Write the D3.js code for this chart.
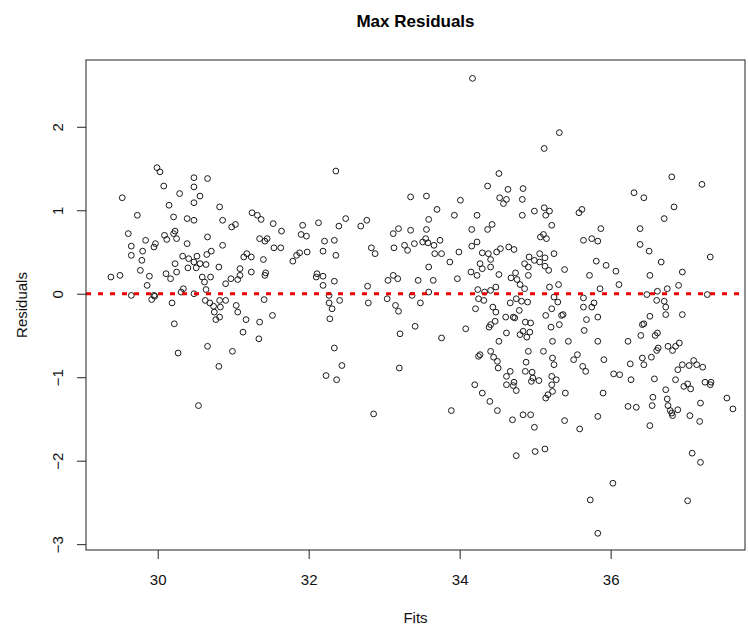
<!DOCTYPE html>
<html>
<head>
<meta charset="utf-8">
<script src="https://cdn.jsdelivr.net/npm/d3@7"></script>
<style>
  html, body { margin: 0; padding: 0; background: #fff; }
  svg { display: block; font-family: "Liberation Sans", Arial, sans-serif; }
</style>
</head>
<body>
<svg id="chart" width="748" height="630"></svg>
<script>
// ---- data ----
const title = "Max Residuals";
const xLabel = "Fits";
const yLabel = "Residuals";
const xTicks = [30, 32, 34, 36];
const yTicks = [-3, -2, -1, 0, 1, 2];
const refLine = 0;

const fits = [
  29.99,30.03,30.08,29.53,30.48,30.66,30.48,30.29,30.56,30.48,30.15,30.82,29.73,30.21,30.39,30.48,30.86,31.25,31.03,30.98,
  29.61,30.09,30.23,30.21,29.84,30.12,30.25,30.66,29.97,29.95,30.39,30.86,29.65,29.80,29.65,30.71,30.65,30.52,30.33,30.41,
  29.79,30.48,30.56,30.64,30.23,30.40,30.51,30.81,31.14,31.18,31.24,31.09,29.77,30.25,30.11,30.17,29.89,29.50,29.38,30.59,
  30.70,30.62,31.09,31.24,30.97,30.90,31.06,29.86,30.34,30.31,30.64,30.48,29.65,29.95,
  29.92,29.96,30.19,30.63,30.69,30.74,30.82,30.90,30.83,30.75,30.82,30.77,31.04,31.06,31.17,31.13,30.22,30.66,30.27,30.99,
  30.81,30.54,
  32.36,33.35,33.56,31.32,31.37,31.53,31.64,31.92,32.13,32.49,32.40,32.69,32.77,31.90,31.97,31.35,31.45,31.42,32.21,32.34,
  31.54,31.63,31.88,31.84,31.79,31.98,32.19,32.36,32.83,32.88,33.12,33.19,33.35,33.56,33.59,33.13,33.27,33.31,33.40,33.51,
  33.55,33.58,31.40,31.43,31.42,32.11,32.10,32.19,32.19,32.34,32.78,33.12,33.05,33.18,33.45,33.59,33.59,31.41,32.27,32.27,
  32.31,32.41,32.28,31.52,31.35,31.34,32.79,33.04,33.15,33.19,33.37,33.48,33.41,33.21,32.34,32.44,32.23,32.37,33.20,32.86,
  34.17,35.32,35.12,34.52,34.37,34.64,34.84,34.53,34.62,34.58,34.83,34.01,33.70,33.93,34.23,34.83,34.99,35.12,35.19,35.14,
  35.58,35.62,35.22,34.43,34.37,34.16,35.11,35.07,35.15,33.74,33.66,34.23,34.16,35.64,35.75,34.65,34.72,34.54,34.49,34.30,
  34.38,33.67,33.76,33.99,34.41,34.27,33.87,34.92,34.99,35.06,35.06,35.13,35.25,34.86,34.91,35.13,35.18,35.39,34.30,34.41,
  34.15,34.23,34.52,34.74,34.68,34.76,34.91,35.72,33.97,33.65,34.80,34.86,34.48,34.41,34.24,34.33,35.19,35.31,
  34.25,34.32,34.75,34.82,34.90,35.25,35.30,35.64,35.78,35.75,35.64,34.21,34.44,34.48,34.67,34.79,35.22,35.14,34.61,34.71,
  34.73,35.35,35.37,35.68,34.47,34.41,34.39,34.87,34.94,34.93,34.84,34.80,34.89,35.21,35.32,35.65,34.08,33.76,34.62,34.52,
  35.23,35.44,34.41,34.91,35.11,34.25,34.27,34.45,34.50,34.51,34.88,35.23,35.25,35.56,35.51,35.63,35.67,34.67,34.62,34.87,
  34.96,34.97,34.95,35.05,35.22,35.28,35.22,34.72,34.62,34.71,34.75,34.20,34.30,34.40,35.23,35.17,35.14,35.40,33.89,34.50,
  34.70,34.84,34.94,34.99,35.39,35.59,34.75,35.00,35.13,35.73,
  36.81,37.21,36.31,36.44,36.84,36.71,35.87,36.39,35.83,36.39,36.51,37.32,35.81,35.94,36.07,36.67,36.95,36.52,36.11,35.86,
  36.90,36.75,36.62,36.48,37.28,36.61,36.71,36.73,35.83,36.52,36.73,36.95,36.42,36.44,36.40,36.59,36.62,35.83,36.23,36.61,
  36.63,36.76,36.82,36.86,36.91,35.91,36.42,36.44,36.54,36.26,36.04,36.12,36.27,36.58,36.89,36.95,37.04,37.10,37.14,37.22,
  36.86,36.97,37.02,37.06,37.25,37.33,37.32,36.73,35.90,36.56,36.75,36.55,36.76,36.79,36.82,36.81,36.89,36.23,36.34,37.19,
  37.05,37.18,37.54,37.62,35.83,36.52,37.08,37.19,36.03,37.02,35.83
];

const residuals = [
  1.51,1.46,1.29,1.15,1.39,1.38,1.28,1.20,1.17,1.09,1.06,1.04,0.94,0.92,0.90,0.88,0.88,0.97,0.83,0.80,
  0.72,0.70,0.75,0.72,0.64,0.65,0.66,0.68,0.60,0.56,0.60,0.58,0.57,0.51,0.46,0.51,0.47,0.45,0.45,0.42,
  0.40,0.38,0.36,0.35,0.36,0.31,0.31,0.32,0.44,0.48,0.44,0.30,0.28,0.26,0.24,0.18,0.21,0.22,0.20,0.20,
  0.20,0.14,0.22,0.26,0.18,0.12,0.17,0.10,0.06,0.02,0.05,0.00,-0.02,-0.02,
  -0.07,-0.03,-0.11,-0.08,-0.11,-0.15,-0.08,-0.08,-0.16,-0.22,-0.28,-0.31,-0.14,-0.22,-0.31,-0.46,-0.36,-0.63,-0.71,-0.69,
  -0.87,-1.34,
  1.47,1.16,1.17,0.94,0.89,0.84,0.75,0.82,0.85,0.90,0.81,0.81,0.88,0.71,0.69,0.66,0.66,0.63,0.63,0.64,
  0.55,0.55,0.49,0.46,0.39,0.50,0.51,0.46,0.55,0.48,0.72,0.78,0.76,0.77,0.89,0.55,0.58,0.52,0.60,0.62,
  0.66,0.61,0.41,0.25,0.22,0.24,0.20,0.21,0.10,0.15,0.09,0.22,0.16,0.18,0.16,0.32,0.02,-0.07,-0.02,-0.11,
  -0.18,-0.08,-0.30,-0.26,-0.34,-0.54,-0.11,-0.06,-0.14,-0.21,-0.02,-0.11,-0.39,-0.48,-0.65,-0.86,-0.98,-1.03,-0.89,-1.44,
  2.58,1.93,1.74,1.44,1.29,1.25,1.26,1.15,1.13,1.08,1.13,1.12,1.01,0.94,0.94,0.94,0.99,1.03,0.99,0.94,
  0.97,1.01,0.82,0.83,0.77,0.77,0.71,0.68,0.66,0.64,0.58,0.62,0.57,0.64,0.66,0.56,0.53,0.54,0.50,0.49,
  0.48,0.48,0.48,0.50,0.41,0.36,0.38,0.44,0.40,0.48,0.38,0.43,0.48,0.36,0.32,0.33,0.28,0.29,0.30,0.32,
  0.26,0.22,0.23,0.25,0.19,0.17,0.22,0.22,0.18,0.16,0.11,0.06,0.08,0.04,0.05,0.02,0.08,0.11,
  -0.06,-0.08,-0.06,-0.09,-0.10,-0.04,-0.10,-0.05,-0.11,-0.16,-0.16,-0.18,-0.16,-0.22,-0.11,-0.20,-0.18,-0.26,-0.28,-0.28,
  -0.29,-0.26,-0.25,-0.31,-0.33,-0.37,-0.40,-0.34,-0.35,-0.46,-0.45,-0.49,-0.52,-0.40,-0.37,-0.44,-0.42,-0.53,-0.47,-0.57,
  -0.57,-0.57,-0.69,-0.69,-0.69,-0.75,-0.73,-0.76,-0.81,-0.89,-0.82,-0.77,-0.85,-0.73,-0.79,-0.87,-0.93,-0.93,-0.99,-0.93,
  -0.94,-1.01,-1.05,-1.04,-0.99,-1.03,-1.09,-1.06,-1.09,-1.10,-1.16,-1.09,-1.19,-1.29,-1.17,-1.21,-1.25,-1.19,-1.40,-1.40,
  -1.51,-1.45,-1.45,-1.60,-1.52,-1.62,-1.94,-1.89,-1.86,-2.47,
  1.40,1.31,1.21,1.15,1.04,0.90,0.78,0.78,0.63,0.59,0.51,0.44,0.39,0.34,0.27,0.38,0.26,0.22,0.11,0.06,
  0.10,0.06,0.03,-0.01,-0.01,-0.08,-0.09,-0.16,-0.28,-0.27,-0.25,-0.25,-0.37,-0.36,-0.50,-0.50,-0.47,-0.57,-0.57,-0.68,
  -0.65,-0.63,-0.68,-0.63,-0.59,-0.79,-0.77,-0.85,-0.76,-0.84,-0.96,-0.97,-1.03,-1.02,-0.91,-0.85,-0.86,-0.80,-0.85,-0.88,
  -1.03,-1.11,-1.08,-1.14,-1.06,-1.06,-1.09,-1.15,-1.19,-1.24,-1.26,-1.34,-1.34,-1.40,-1.46,-1.43,-1.39,-1.35,-1.36,-1.31,
  -1.46,-1.53,-1.25,-1.38,-1.47,-1.58,-1.91,-2.02,-2.27,-2.48,-2.87
];

// ---- layout ----
const plot = { left: 86, right: 745, top: 60, bottom: 550 };
const svg = d3.select("#chart");

const x = d3.scaleLinear().domain([29.05, 37.78]).range([plot.left, plot.right]);
const y = d3.scaleLinear().domain([-3.07, 2.80]).range([plot.bottom, plot.top]);

const n = Math.min(fits.length, residuals.length);
if (fits.length !== residuals.length) console.warn("length mismatch", fits.length, residuals.length);
const pts = d3.range(n).map(i => ({ x: fits[i], y: residuals[i] }));

// title
svg.append("text")
  .attr("x", (plot.left + plot.right) / 2)
  .attr("y", 27)
  .attr("text-anchor", "middle")
  .attr("font-size", 17)
  .attr("font-weight", "bold")
  .attr("fill", "#000")
  .text(title);

// clip
svg.append("clipPath").attr("id", "clip")
  .append("rect")
  .attr("x", plot.left).attr("y", plot.top)
  .attr("width", plot.right - plot.left).attr("height", plot.bottom - plot.top);

// points
svg.append("g")
  .selectAll("circle")
  .data(pts)
  .join("circle")
  .attr("cx", d => x(d.x))
  .attr("cy", d => y(d.y))
  .attr("r", 2.9)
  .attr("fill", "none")
  .attr("stroke", "#1a1a1a")
  .attr("stroke-width", 1);

// reference line
svg.append("line")
  .attr("clip-path", "url(#clip)")
  .attr("x1", plot.left).attr("x2", plot.right)
  .attr("y1", y(refLine)).attr("y2", y(refLine))
  .attr("stroke", "#ee0000")
  .attr("stroke-width", 3)
  .attr("stroke-dasharray", "5,7");

// frame
svg.append("rect")
  .attr("x", plot.left).attr("y", plot.top)
  .attr("width", plot.right - plot.left).attr("height", plot.bottom - plot.top)
  .attr("fill", "none").attr("stroke", "#222").attr("stroke-width", 1);

// x axis
const gx = svg.append("g")
  .attr("transform", `translate(0,${plot.bottom})`)
  .call(d3.axisBottom(x).tickValues(xTicks).tickSize(9).tickFormat(d3.format("d")));
gx.select(".domain").remove();
gx.selectAll(".tick line").attr("stroke", "#222");
gx.selectAll(".tick text")
  .attr("y", 35).attr("dy", 0)
  .attr("font-size", 15)
  .attr("font-family", "Liberation Sans, Arial, sans-serif")
  .attr("fill", "#111");

// y axis
const gy = svg.append("g")
  .attr("transform", `translate(${plot.left},0)`)
  .call(d3.axisLeft(y).tickValues(yTicks).tickSize(9).tickFormat(d3.format("d")));
gy.select(".domain").remove();
gy.selectAll(".tick line").attr("stroke", "#222");
gy.selectAll(".tick text")
  .attr("transform", "rotate(-90)")
  .attr("x", 0).attr("y", -23).attr("dy", 0)
  .attr("text-anchor", "middle")
  .attr("font-size", 15)
  .attr("font-family", "Liberation Sans, Arial, sans-serif")
  .attr("fill", "#111");

// axis titles
svg.append("text")
  .attr("x", (plot.left + plot.right) / 2)
  .attr("y", 623)
  .attr("text-anchor", "middle")
  .attr("font-size", 15)
  .attr("fill", "#111")
  .text(xLabel);

svg.append("text")
  .attr("transform", `translate(27,${(plot.top + plot.bottom) / 2}) rotate(-90)`)
  .attr("text-anchor", "middle")
  .attr("font-size", 15)
  .attr("fill", "#111")
  .text(yLabel);
</script>
</body>
</html>
